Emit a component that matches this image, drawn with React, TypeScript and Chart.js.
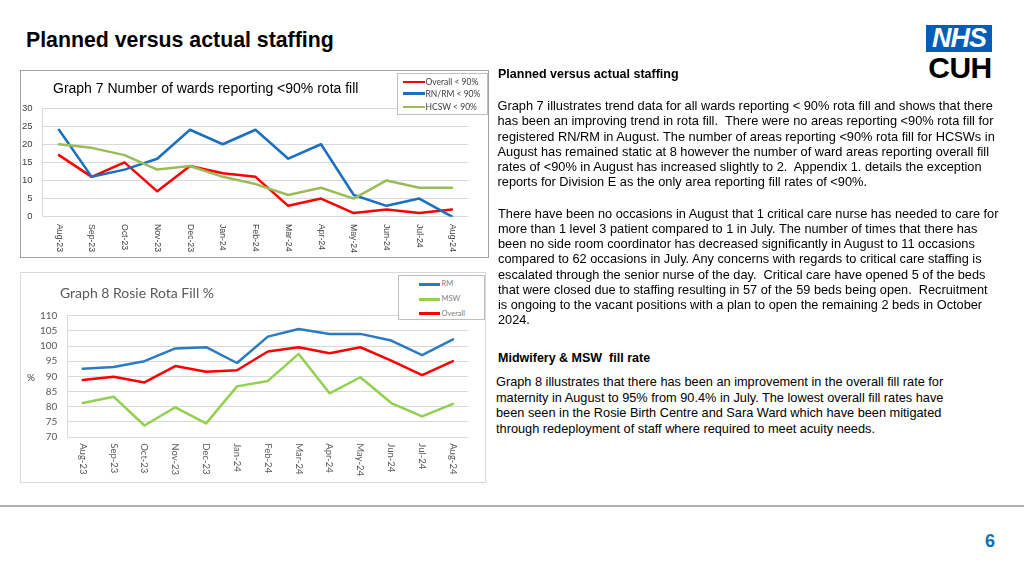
import React, { useEffect, useRef } from 'react';
import { Chart, registerables } from 'chart.js';

Chart.register(...registerables);

// ---------- DATA ----------
const months = ['Aug-23', 'Sep-23', 'Oct-23', 'Nov-23', 'Dec-23', 'Jan-24', 'Feb-24', 'Mar-24', 'Apr-24', 'May-24', 'Jun-24', 'Jul-24', 'Aug-24'];

const g7Overall = [17, 11, 15, 7, 14, 12, 11, 3, 5, 1, 2, 1, 2];
const g7RnRm = [24, 11, 13, 16, 24, 20, 24, 16, 20, 6, 3, 5, 0];
const g7Hcsw = [20, 19, 17, 13, 14, 11, 9, 6, 8, 5, 10, 8, 8];
const g7SeriesNames = ['Overall < 90%', 'RN/RM < 90%', 'HCSW < 90%'];

const g8Rm = [92.5, 93.1, 95, 99.2, 99.6, 94.4, 103.1, 105.6, 104, 104, 101.8, 97, 102.2];
const g8Msw = [81.2, 83.3, 73.8, 79.8, 74.5, 86.7, 88.5, 97.4, 84.4, 89.7, 81.2, 76.8, 80.9];
const g8Overall = [88.8, 89.9, 88, 93.4, 91.5, 92, 98.2, 99.6, 97.6, 99.6, 95.2, 90.4, 95];
const g8SeriesNames = ['RM', 'MSW', 'Overall'];

const para1 = [
  'Graph 7 illustrates trend data for all wards reporting < 90% rota fill and shows that there',
  'has been an improving trend in rota fill.  There were no areas reporting <90% rota fill for',
  'registered RN/RM in August. The number of areas reporting <90% rota fill for HCSWs in',
  'August has remained static at 8 however the number of ward areas reporting overall fill',
  'rates of <90% in August has increased slightly to 2.  Appendix 1. details the exception',
  'reports for Division E as the only area reporting fill rates of <90%.',
];
const para2 = [
  'There have been no occasions in August that 1 critical care nurse has needed to care for',
  'more than 1 level 3 patient compared to 1 in July. The number of times that there has',
  'been no side room coordinator has decreased significantly in August to 11 occasions',
  'compared to 62 occasions in July. Any concerns with regards to critical care staffing is',
  'escalated through the senior nurse of the day.  Critical care have opened 5 of the beds',
  'that were closed due to staffing resulting in 57 of the 59 beds being open.  Recruitment',
  'is ongoing to the vacant positions with a plan to open the remaining 2 beds in October',
  '2024.',
];
const para3 = [
  'Graph 8 illustrates that there has been an improvement in the overall fill rate for',
  'maternity in August to 95% from 90.4% in July. The lowest overall fill rates have',
  'been seen in the Rosie Birth Centre and Sara Ward which have been mitigated',
  'through redeployment of staff where required to meet acuity needs.',
];

const C7 = { red: '#ff0000', blue: '#1a6fc0', green: '#9bbb59' };
const C8 = { blue: '#2a7bc2', green: '#92d050', red: '#ff0000' };

const SANS = '"Liberation Sans", Arial, sans-serif';

// Rotated (clockwise) category labels drawn from the x scale
const rotatedXLabels = {
  id: 'rotX',
  afterDraw(chart: any, _args: any, opts: any) {
    const xs = chart.scales.x;
    const ctx = chart.ctx;
    const labels = chart.data.labels as string[];
    ctx.save();
    ctx.font = opts.font;
    ctx.fillStyle = opts.color;
    ctx.textAlign = 'left';
    ctx.textBaseline = 'middle';
    labels.forEach((lab, i) => {
      const x = xs.getPixelForValue(i);
      ctx.save();
      ctx.translate(x, chart.chartArea.bottom + opts.gap);
      ctx.rotate(Math.PI / 2);
      ctx.fillText(String(lab), 0, 0);
      ctx.restore();
    });
    ctx.restore();
  },
};

type DS = { label: string; data: number[]; color: string };

function LineChart(props: {
  left: number; top: number; width: number; height: number;
  datasets: DS[]; yMin: number; yMax: number;
  yWidth: number; xHeight: number; padTop: number; padRight: number;
  tickFont: { family: string; size: number }; tickColor: string; xFont: string; xGap: number; lineWidth: number;
}) {
  const ref = useRef<HTMLCanvasElement | null>(null);
  useEffect(() => {
    if (!ref.current) return;
    const n = props.datasets.length;
    const chart = new Chart(ref.current, {
      type: 'line',
      data: {
        labels: months,
        datasets: props.datasets.map((d, i) => ({
          label: d.label,
          data: d.data,
          borderColor: d.color,
          backgroundColor: d.color,
          borderWidth: props.lineWidth,
          pointRadius: 0,
          tension: 0,
          borderJoinStyle: 'round',
          borderCapStyle: 'round',
          order: n - i,
        })),
      },
      options: {
        responsive: false,
        animation: false,
        devicePixelRatio: 1,
        layout: { padding: { left: 0, right: props.padRight, top: props.padTop, bottom: 0 } },
        plugins: {
          legend: { display: false },
          title: { display: false },
          tooltip: { enabled: false },
          rotX: { font: props.xFont, color: props.tickColor, gap: props.xGap },
        } as any,
        scales: {
          x: {
            type: 'category',
            offset: true,
            grid: { display: false },
            border: { display: false },
            ticks: { display: false },
            afterFit: (s: any) => { s.height = props.xHeight; },
          },
          y: {
            min: props.yMin,
            max: props.yMax,
            ticks: { stepSize: 5, padding: 10, color: props.tickColor, font: props.tickFont },
            grid: { color: '#d9d9d9', drawTicks: false, lineWidth: 1 },
            border: { display: true, color: '#d9d9d9' },
            afterFit: (s: any) => { s.width = props.yWidth; },
          },
        },
      },
      plugins: [rotatedXLabels],
    } as any);
    return () => chart.destroy();
  }, []);
  return (
    <canvas
      ref={ref}
      width={props.width}
      height={props.height}
      style={{ position: 'absolute', left: props.left, top: props.top, width: props.width, height: props.height }}
    />
  );
}

function Legend(props: {
  left: number; top: number; width: number; height: number;
  items: { label: string; color: string; y: number }[];
  lineX1: number; lineX2: number; textX: number; fontSize: number; fontFamily: string; color: string;
}) {
  return (
    <div style={{
      position: 'absolute', left: props.left, top: props.top, width: props.width, height: props.height,
      border: '1px solid #bfbfbf', background: '#fff', boxSizing: 'border-box',
    }}>
      {props.items.map((it) => (
        <React.Fragment key={it.label}>
          <div style={{
            position: 'absolute', left: props.lineX1 - props.left, top: it.y - props.top - 1.25,
            width: props.lineX2 - props.lineX1, height: 2.5, background: it.color,
          }} />
          <div style={{
            position: 'absolute', left: props.textX - props.left, top: it.y - props.top - 6,
            height: 12, lineHeight: '12px', fontSize: props.fontSize, fontFamily: props.fontFamily,
            color: props.color, whiteSpace: 'nowrap',
          }}>{it.label}</div>
        </React.Fragment>
      ))}
    </div>
  );
}

function TextLines(props: { left: number; top: number; lines: string[]; size: number; lh: number; bold?: boolean }) {
  return (
    <div style={{ position: 'absolute', left: props.left, top: props.top, fontFamily: SANS, fontSize: props.size, lineHeight: props.lh + 'px', fontWeight: props.bold ? 700 : 400, color: '#000' }}>
      {props.lines.map((l, i) => (
        <div key={i} style={{ whiteSpace: 'pre' }}>{l}</div>
      ))}
    </div>
  );
}

export default function App() {
  return (
    <div style={{ position: 'fixed', left: 0, top: 0, width: 1024, height: 576, background: '#fff', overflow: 'hidden' }}>
      {/* Main title */}
      <div style={{ position: 'absolute', left: 26, top: 27, fontFamily: SANS, fontWeight: 700, fontSize: 21.3, lineHeight: '26px', color: '#000', whiteSpace: 'nowrap' }}>
        Planned versus actual staffing
      </div>

      {/* NHS logo */}
      <div style={{ position: 'absolute', left: 926, top: 25, width: 66, height: 27, background: '#005eb8' }}>
        <div style={{ position: 'absolute', left: 0, top: 0, width: 66, height: 27, lineHeight: '27px', textAlign: 'center', fontFamily: SANS, fontWeight: 700, fontStyle: 'italic', fontSize: 27, color: '#fff', letterSpacing: -1 }}>NHS</div>
      </div>
      <div style={{ position: 'absolute', left: 924, top: 52, width: 72, height: 32, lineHeight: '32px', textAlign: 'center', fontFamily: SANS, fontWeight: 700, fontSize: 30, color: '#000', letterSpacing: -0.5 }}>CUH</div>

      {/* Graph 7 frame */}
      <div style={{ position: 'absolute', left: 20, top: 70, width: 469, height: 188, border: '1px solid #a0a0a0', boxSizing: 'border-box' }} />
      <LineChart
        left={21} top={71} width={467} height={186}
        datasets={[
          { label: g7SeriesNames[0], data: g7Overall, color: C7.red },
          { label: g7SeriesNames[1], data: g7RnRm, color: C7.blue },
          { label: g7SeriesNames[2], data: g7Hcsw, color: C7.green },
        ]}
        yMin={0} yMax={30} yWidth={21.6} xHeight={40.3} padTop={37} padRight={19.6}
        tickFont={{ family: '"Liberation Sans", Arial, sans-serif', size: 9.5 }} tickColor={'#404040'}
        xFont={'8.7px "Liberation Sans", Arial, sans-serif'} xGap={7.3} lineWidth={2.5}
      />
      <div style={{ position: 'absolute', left: 53, top: 79, fontFamily: SANS, fontSize: 14, lineHeight: '18px', color: '#000', whiteSpace: 'nowrap' }}>
        Graph 7 Number of wards reporting &lt;90% rota fill
      </div>
      <Legend
        left={397} top={73} width={91} height={42}
        items={[
          { label: g7SeriesNames[0], color: C7.red, y: 81 },
          { label: g7SeriesNames[1], color: C7.blue, y: 92.5 },
          { label: g7SeriesNames[2], color: C7.green, y: 106 },
        ]}
        lineX1={401.7} lineX2={424} textX={424.5} fontSize={8.5} fontFamily={'Lato, "Liberation Sans", sans-serif'} color={'#404040'}
      />

      {/* Graph 8 frame */}
      <div style={{ position: 'absolute', left: 20, top: 272, width: 466, height: 211, border: '1px solid #d9d9d9', boxSizing: 'border-box' }} />
      <LineChart
        left={21} top={273} width={464} height={209}
        datasets={[
          { label: g8SeriesNames[0], data: g8Rm, color: C8.blue },
          { label: g8SeriesNames[1], data: g8Msw, color: C8.green },
          { label: g8SeriesNames[2], data: g8Overall, color: C8.red },
        ]}
        yMin={70} yMax={110} yWidth={46.3} xHeight={45} padTop={42.7} padRight={16.6}
        tickFont={{ family: 'Lato, "Liberation Sans", sans-serif', size: 10 }} tickColor={'#595959'}
        xFont={'9.5px Lato, "Liberation Sans", sans-serif'} xGap={6.3} lineWidth={2.5}
      />
      <div style={{ position: 'absolute', left: 60, top: 283.5, fontFamily: 'Lato, "Liberation Sans", sans-serif', fontSize: 14, lineHeight: '18px', color: '#595959', whiteSpace: 'nowrap' }}>
        Graph 8 Rosie Rota Fill %
      </div>
      <div style={{ position: 'absolute', left: 27, top: 371, fontFamily: 'Lato, "Liberation Sans", sans-serif', fontSize: 10, lineHeight: '12px', color: '#404040' }}>%</div>
      <Legend
        left={397.7} top={275} width={87.5} height={44.5}
        items={[
          { label: g8SeriesNames[0], color: C8.blue, y: 283.3 },
          { label: g8SeriesNames[1], color: C8.green, y: 298.3 },
          { label: g8SeriesNames[2], color: C8.red, y: 312.7 },
        ]}
        lineX1={418.3} lineX2={439.3} textX={440.5} fontSize={7.5} fontFamily={'Lato, "Liberation Sans", sans-serif'} color={'#7f7f7f'}
      />

      {/* Right-hand text */}
      <TextLines left={498} top={67.4} lines={['Planned versus actual staffing']} size={12.5} lh={15.3} bold />
      <TextLines left={497.5} top={98} lines={para1} size={12.8} lh={15.3} />
      <TextLines left={498} top={205.7} lines={para2} size={12.75} lh={15.25} />
      <TextLines left={498} top={350.7} lines={['Midwifery & MSW  fill rate']} size={12.5} lh={15.3} bold />
      <TextLines left={496} top={374} lines={para3} size={12.75} lh={15.5} />

      {/* Footer */}
      <div style={{ position: 'absolute', left: 0, top: 504.5, width: 1024, height: 2, background: '#b0b0b0' }} />
      <div style={{ position: 'absolute', left: 980, top: 530, width: 20, height: 22, lineHeight: '22px', textAlign: 'center', fontFamily: '"Liberation Sans Narrow", "Liberation Sans", Arial, sans-serif', fontWeight: 700, fontSize: 18, color: '#1170b5' }}>6</div>
    </div>
  );
}
